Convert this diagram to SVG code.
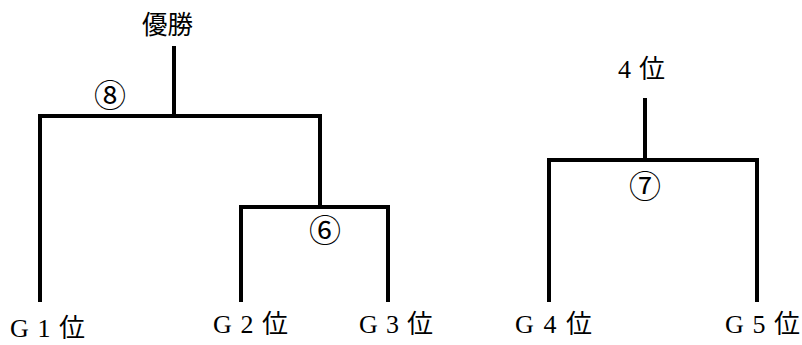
<svg xmlns="http://www.w3.org/2000/svg" width="802" height="345" viewBox="0 0 802 345">
<style>
.ln{stroke:#000;stroke-width:4;fill:none;stroke-linecap:square}
.t{font-family:"Liberation Serif","Noto Sans CJK JP",serif;font-size:26px;fill:#000}
.c{font-family:"Noto Sans CJK JP",sans-serif;font-size:32px;fill:#000;text-anchor:middle}
</style>
<rect width="802" height="345" fill="#fff"/>
<g id="connectors">
<path class="ln" d="M174,48 V116"/>
<path class="ln" d="M40,300 V116 H320 V207"/>
<path class="ln" d="M241,300 V207 H388 V300"/>
<path class="ln" d="M645,100 V160"/>
<path class="ln" d="M549,300 V160 H757 V300"/>
</g>
<g id="winner"><text class="t" x="142" y="34" textLength="51" lengthAdjust="spacingAndGlyphs">優勝</text></g>
<g id="fourth"><text class="t" x="618" y="78" textLength="47" lengthAdjust="spacing">4 位</text></g>
<g id="m8"><text class="c" x="110" y="107">⑧</text></g>
<g id="m6"><text class="c" x="325" y="242">⑥</text></g>
<g id="m7"><text class="c" x="645" y="198">⑦</text></g>
<g id="g1"><text class="t" x="10" y="337" textLength="75" lengthAdjust="spacing">G 1 位</text></g>
<g id="g2"><text class="t" x="213" y="333" textLength="75" lengthAdjust="spacing">G 2 位</text></g>
<g id="g3"><text class="t" x="359" y="333" textLength="74" lengthAdjust="spacing">G 3 位</text></g>
<g id="g4"><text class="t" x="515" y="333" textLength="77" lengthAdjust="spacing">G 4 位</text></g>
<g id="g5"><text class="t" x="725" y="333" textLength="75" lengthAdjust="spacing">G 5 位</text></g>
</svg>
